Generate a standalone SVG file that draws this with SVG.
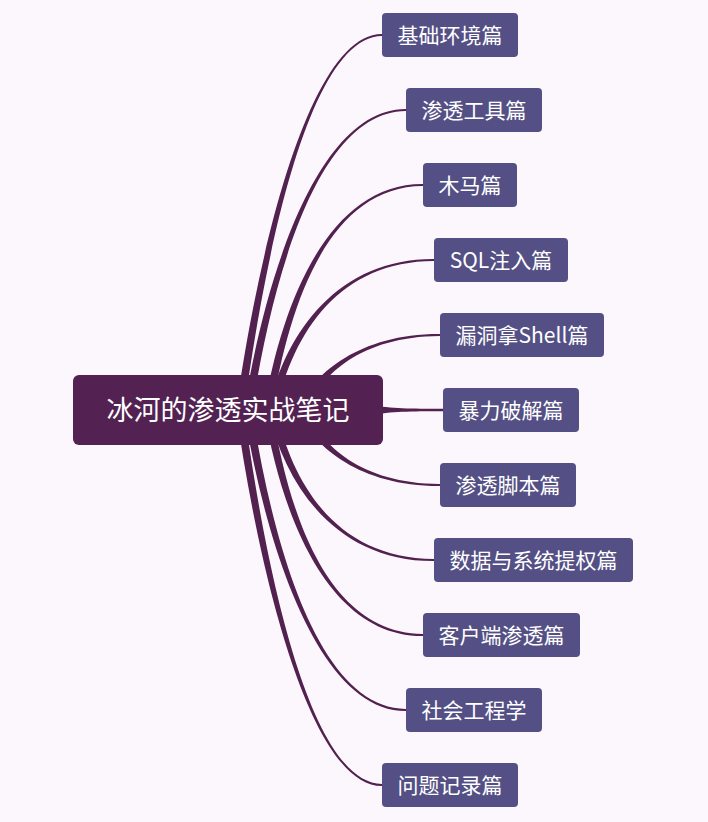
<svg xmlns="http://www.w3.org/2000/svg" width="708" height="822" viewBox="0 0 708 822">
<style>
.bg{fill:#fcf7fc}
.conn path{fill:#52214f;stroke:none}
.root rect{fill:#532253}
.child rect{fill:#545085}
.root text{fill:#ffffff;font-family:"Noto Sans CJK SC","Noto Sans",sans-serif;font-size:27px;text-anchor:middle}
.child text{fill:#ffffff;font-family:"Noto Sans CJK SC","Noto Sans",sans-serif;font-size:21px;text-anchor:middle}
</style>
<rect class="bg" x="0" y="0" width="708" height="822"/>
<g id="connectors" class="conn">
<path d="M236,409.5 C258.5,249.5 310,33.5 382,33.9 L382,36.1 C310,36.5 265.5,250.5 244,410.5 Z"/>
<path d="M244,409.4 C266.5,269.5 320,108.5 406,108.9 L406,111.1 C320,111.5 273.5,270.5 252,410.6 Z"/>
<path d="M264,409.4 C282.5,299.4 330,183.5 423,183.9 L423,186.1 C330,186.5 289.5,300.6 272,410.6 Z"/>
<path d="M268.1,409.1 C286.6,329.2 340,258.5 434,258.9 L434,261.1 C340,261.5 293.4,330.8 275.9,410.9 Z"/>
<path d="M301.3,403.4 C314.8,373.6 360,333.5 440,333.9 L440,336.1 C360,336.5 321.2,376.4 308.7,406.6 Z"/>
<path d="M370,405 C392,408.5 410,408.8 443,408.8 L443,411.2 C410,411.2 392,411.5 370,415 Z"/>
<path d="M301.3,416.6 C314.8,446.4 360,486.5 440,486.1 L440,483.9 C360,483.5 321.2,443.6 308.7,413.4 Z"/>
<path d="M268.1,410.9 C286.6,490.8 340,561.5 434,561.1 L434,558.9 C340,558.5 293.4,489.2 275.9,409.1 Z"/>
<path d="M264,410.6 C282.5,520.6 330,636.5 423,636.1 L423,633.9 C330,633.5 289.5,519.4 272,409.4 Z"/>
<path d="M244,410.6 C266.5,550.5 320,711.5 406,711.1 L406,708.9 C320,708.5 273.5,549.5 252,409.4 Z"/>
<path d="M236,410.5 C258.5,570.5 310,786.5 382,786.1 L382,783.9 C310,783.5 265.5,569.5 244,409.5 Z"/>
</g>
<g id="root" class="root"><rect x="73" y="375" width="310" height="70" rx="6"/><text x="228" y="420">冰河的渗透实战笔记</text></g>
<g id="n1" class="child"><rect x="382" y="13" width="136" height="44" rx="4"/><text x="450" y="43">基础环境篇</text></g>
<g id="n2" class="child"><rect x="406" y="88" width="136" height="44" rx="4"/><text x="474" y="118">渗透工具篇</text></g>
<g id="n3" class="child"><rect x="423" y="163" width="94" height="44" rx="4"/><text x="470" y="193">木马篇</text></g>
<g id="n4" class="child"><rect x="434" y="238" width="134" height="44" rx="4"/><text x="501" y="268">SQL注入篇</text></g>
<g id="n5" class="child"><rect x="440" y="313" width="164" height="44" rx="4"/><text x="522" y="343">漏洞拿Shell篇</text></g>
<g id="n6" class="child"><rect x="443" y="388" width="136" height="44" rx="4"/><text x="511" y="418">暴力破解篇</text></g>
<g id="n7" class="child"><rect x="440" y="463" width="136" height="44" rx="4"/><text x="508" y="493">渗透脚本篇</text></g>
<g id="n8" class="child"><rect x="434" y="538" width="199" height="44" rx="4"/><text x="533.5" y="568">数据与系统提权篇</text></g>
<g id="n9" class="child"><rect x="423" y="613" width="157" height="44" rx="4"/><text x="501.5" y="643">客户端渗透篇</text></g>
<g id="n10" class="child"><rect x="406" y="688" width="136" height="44" rx="4"/><text x="474" y="718">社会工程学</text></g>
<g id="n11" class="child"><rect x="382" y="763" width="136" height="44" rx="4"/><text x="450" y="793">问题记录篇</text></g>
</svg>
